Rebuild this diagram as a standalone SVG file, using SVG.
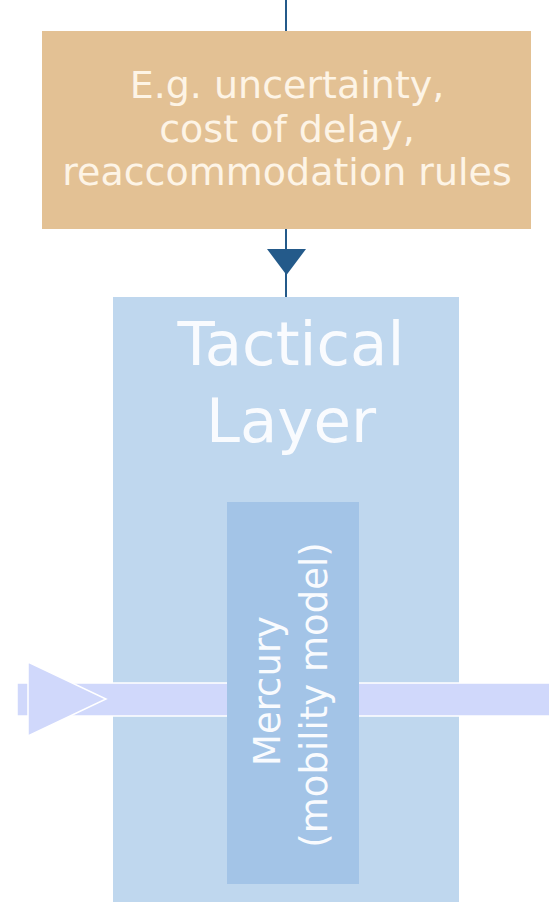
<svg xmlns="http://www.w3.org/2000/svg" width="549" height="902" viewBox="0 0 549 902">
  <style>
    .lbl { font-family: "DejaVu Sans", "Liberation Sans", sans-serif; text-anchor: middle; }
    .cause { fill: #fdf4e6; font-size: 38px; }
    .layer { fill: #f9fbfe; font-size: 61px; }
    .model { fill: #f9fbfe; font-size: 37px; }
    .link { stroke: #245a8a; stroke-width: 2; fill: none; }
    .band { fill: #d0d8fb; stroke: #ffffff; stroke-width: 1.5; }
  </style>

  <rect width="549" height="902" fill="#ffffff"/>

  <!-- connectors -->
  <g id="connectors">
    <line class="link" x1="286" y1="0" x2="286" y2="31"/>
    <line class="link" x1="286" y1="229" x2="286" y2="297"/>
    <path d="M267,249 L306,249 L286.5,275 Z" fill="#245a8a"/>
  </g>

  <!-- influencing factors -->
  <g id="factors">
    <rect x="42" y="31" width="489" height="198" fill="#e3c194"/>
    <text class="lbl cause" x="287" y="98">E.g. uncertainty,</text>
    <text class="lbl cause" x="287" y="142">cost of delay,</text>
    <text class="lbl cause" x="287" y="185">reaccommodation rules</text>
  </g>

  <!-- tactical layer -->
  <g id="tactical-layer">
    <rect x="113" y="297" width="346" height="605" fill="#bfd7ee"/>
    <text class="lbl layer" x="291" y="365">Tactical</text>
    <text class="lbl layer" x="291" y="442">Layer</text>
  </g>

  <!-- flow band -->
  <g id="flow">
    <rect class="band" x="17" y="683" width="540" height="33"/>
    <path class="band" d="M28,662 L106,699 L28,736 Z"/>
  </g>

  <!-- mobility model -->
  <g id="mercury">
    <rect x="227" y="502" width="132" height="382" fill="#a3c4e7"/>
    <text class="lbl model" transform="translate(280,691) rotate(-90)">Mercury</text>
    <text class="lbl model" transform="translate(327,695) rotate(-90)">(mobility model)</text>
  </g>
</svg>
